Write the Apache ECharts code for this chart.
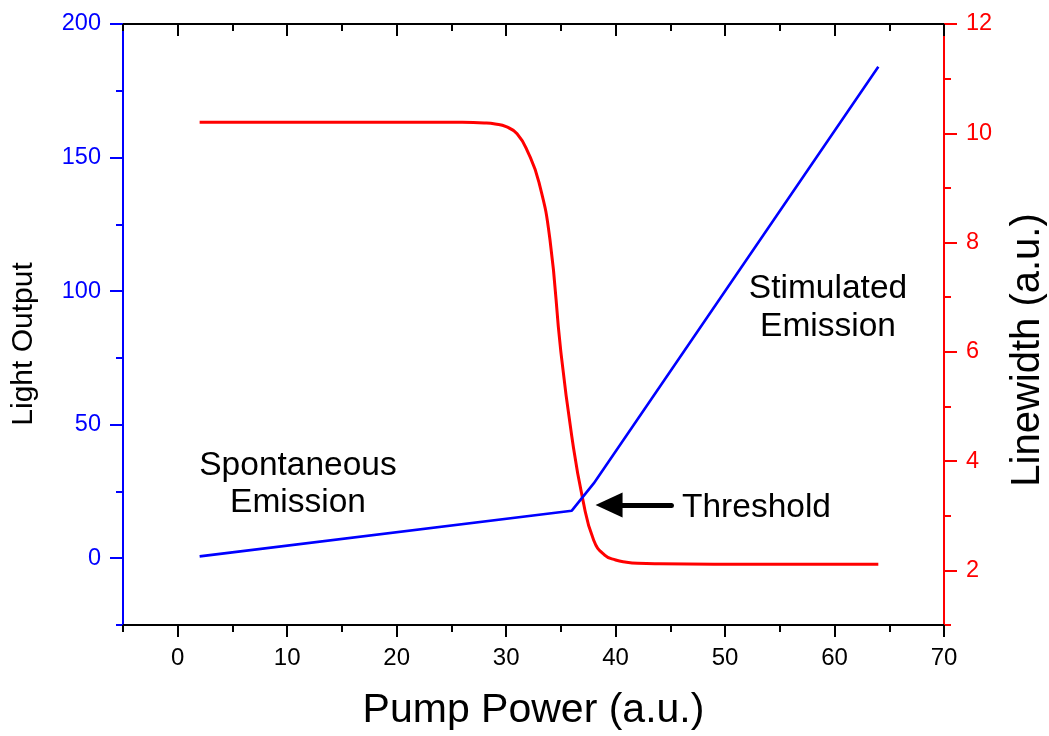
<!DOCTYPE html>
<html>
<head>
<meta charset="utf-8">
<script src="https://cdn.jsdelivr.net/npm/echarts@6/dist/echarts.min.js"></script>
<style>
  html, body { margin: 0; padding: 0; background: #ffffff; }
  #chart { width: 1049px; height: 736px; }
</style>
</head>
<body>
<div id="chart"></div>
<script>
// Light output vs pump power (blue, left axis)
const pumpOutput = [2, 36, 38, 64];
const lightOutput = [0.7, 17.8, 28, 184];

// Linewidth vs pump power (red, right axis)
const pumpLinewidth = [2, 14, 26, 28, 29, 30, 31, 32, 33, 34, 35, 36, 37, 38, 39, 40, 41, 42, 44, 54, 64];
const linewidth = [10.2, 10.2, 10.2, 10.19, 10.17, 10.12, 9.99, 9.65, 9.1, 8.06, 6.0, 4.45, 3.3, 2.55, 2.28, 2.19, 2.15, 2.13, 2.12, 2.11, 2.11];

// Axis ranges and tick values
const pumpRange = [-5, 70];
const pumpMajor = [0, 10, 20, 30, 40, 50, 60, 70];
const pumpMinor = [-5, 5, 15, 25, 35, 45, 55, 65];

const outputRange = [-25, 200];
const outputMajor = [0, 50, 100, 150, 200];
const outputMinor = [-25, 25, 75, 125, 175];

const widthRange = [1, 12];
const widthMajor = [2, 4, 6, 8, 10, 12];
const widthMinor = [1, 3, 5, 7, 9, 11];

// Threshold arrow (tail -> head) in pump / light-output units
const thresholdArrow = { tail: [45.1, 19.9], head: [39.4, 19.9] };

const FONT = "'Liberation Sans', Arial, Helvetica, sans-serif";
const BLUE = '#0000ff';
const RED = '#ff0000';
const BLACK = '#000000';

const zip = (xs, ys) => xs.map((x, i) => [x, ys[i]]);

// One axis carrying the long (major) ticks, labels and the line
function majorAxis(position, range, ticks, color, labelColor, extra) {
  return Object.assign({
    type: 'value',
    position: position,
    min: range[0], max: range[1],
    axisLine: { show: true, onZero: false, lineStyle: { color: color, width: 2 } },
    axisTick: { show: true, inside: false, length: 13, customValues: ticks, lineStyle: { color: color, width: 2 } },
    axisLabel: { show: true, customValues: ticks, fontFamily: FONT, fontSize: 23.5, color: labelColor, margin: 22 },
    splitLine: { show: false },
    minorTick: { show: false }
  }, extra || {});
}

// A twin axis on the same edge, only drawing the short (minor) ticks
function minorAxis(position, range, ticks, color, inside) {
  return {
    type: 'value',
    position: position,
    min: range[0], max: range[1],
    axisLine: { show: false, onZero: false },
    axisTick: { show: true, inside: !!inside, length: 7, customValues: ticks, lineStyle: { color: color, width: 2 } },
    axisLabel: { show: false },
    splitLine: { show: false },
    minorTick: { show: false }
  };
}

const chart = echarts.init(document.getElementById('chart'), null, { renderer: 'canvas', devicePixelRatio: 1 });

chart.setOption({
  backgroundColor: '#ffffff',
  animation: false,
  grid: { left: 123, right: 105, top: 24, bottom: 109, containLabel: false },
  xAxis: [
    majorAxis('bottom', pumpRange, pumpMajor, BLACK, BLACK, {
      name: 'Pump Power (a.u.)',
      nameLocation: 'middle',
      nameGap: 65,
      nameTextStyle: { fontFamily: FONT, fontSize: 41, color: BLACK },
      axisTick: { show: true, inside: false, length: 12, customValues: pumpMajor, lineStyle: { color: BLACK, width: 2 } },
      axisLabel: { show: true, customValues: pumpMajor, fontFamily: FONT, fontSize: 24, color: BLACK, margin: 21 }
    }),
    minorAxis('bottom', pumpRange, pumpMinor, BLACK, false),
    majorAxis('top', pumpRange, pumpMajor, BLACK, BLACK, {
      axisTick: { show: true, inside: true, length: 12, customValues: pumpMajor, lineStyle: { color: BLACK, width: 2 } },
      axisLabel: { show: false }
    }),
    minorAxis('top', pumpRange, pumpMinor, BLACK, true)
  ],
  yAxis: [
    majorAxis('left', outputRange, outputMajor, BLUE, BLUE),
    majorAxis('right', widthRange, widthMajor, RED, RED),
    minorAxis('left', outputRange, outputMinor, BLUE, false),
    minorAxis('right', widthRange, widthMinor, RED, false)
  ],
  series: [
    {
      name: 'Light Output',
      type: 'line',
      xAxisIndex: 0,
      yAxisIndex: 0,
      data: zip(pumpOutput, lightOutput),
      showSymbol: false,
      symbol: 'none',
      lineStyle: { color: BLUE, width: 2.6 },
      z: 3,
      markLine: {
        silent: true,
        symbol: ['none', 'triangle'],
        symbolSize: [25, 27],
        label: { show: false },
        lineStyle: { color: BLACK, width: 5, type: 'solid', cap: 'round' },
        itemStyle: { color: BLACK },
        emphasis: { disabled: true },
        data: [[{ coord: thresholdArrow.tail }, { coord: thresholdArrow.head }]]
      }
    },
    {
      name: 'Linewidth',
      type: 'line',
      xAxisIndex: 0,
      yAxisIndex: 1,
      data: zip(pumpLinewidth, linewidth),
      showSymbol: false,
      symbol: 'none',
      smooth: 0.5,
      lineStyle: { color: RED, width: 3 },
      z: 2
    }
  ],
  graphic: [
    {
      type: 'text', x: 24, y: 344, rotation: Math.PI / 2,
      style: { text: 'Light Output', font: '30px ' + FONT, fill: BLACK, textAlign: 'center', textVerticalAlign: 'middle' }
    },
    {
      type: 'text', x: 1028, y: 350, rotation: Math.PI / 2,
      style: { text: 'Linewidth (a.u.)', font: '40px ' + FONT, fill: BLACK, textAlign: 'center', textVerticalAlign: 'middle' }
    },
    {
      type: 'text', x: 298, y: 447,
      style: { text: 'Spontaneous\nEmission', font: '33.5px ' + FONT, fill: BLACK, textAlign: 'center', textVerticalAlign: 'top', lineHeight: 37 }
    },
    {
      type: 'text', x: 828, y: 270,
      style: { text: 'Stimulated\nEmission', font: '33.5px ' + FONT, fill: BLACK, textAlign: 'center', textVerticalAlign: 'top', lineHeight: 38 }
    },
    {
      type: 'text', x: 682, y: 508,
      style: { text: 'Threshold', font: '33.5px ' + FONT, fill: BLACK, textAlign: 'left', textVerticalAlign: 'middle' }
    }
  ]
});
</script>
</body>
</html>
